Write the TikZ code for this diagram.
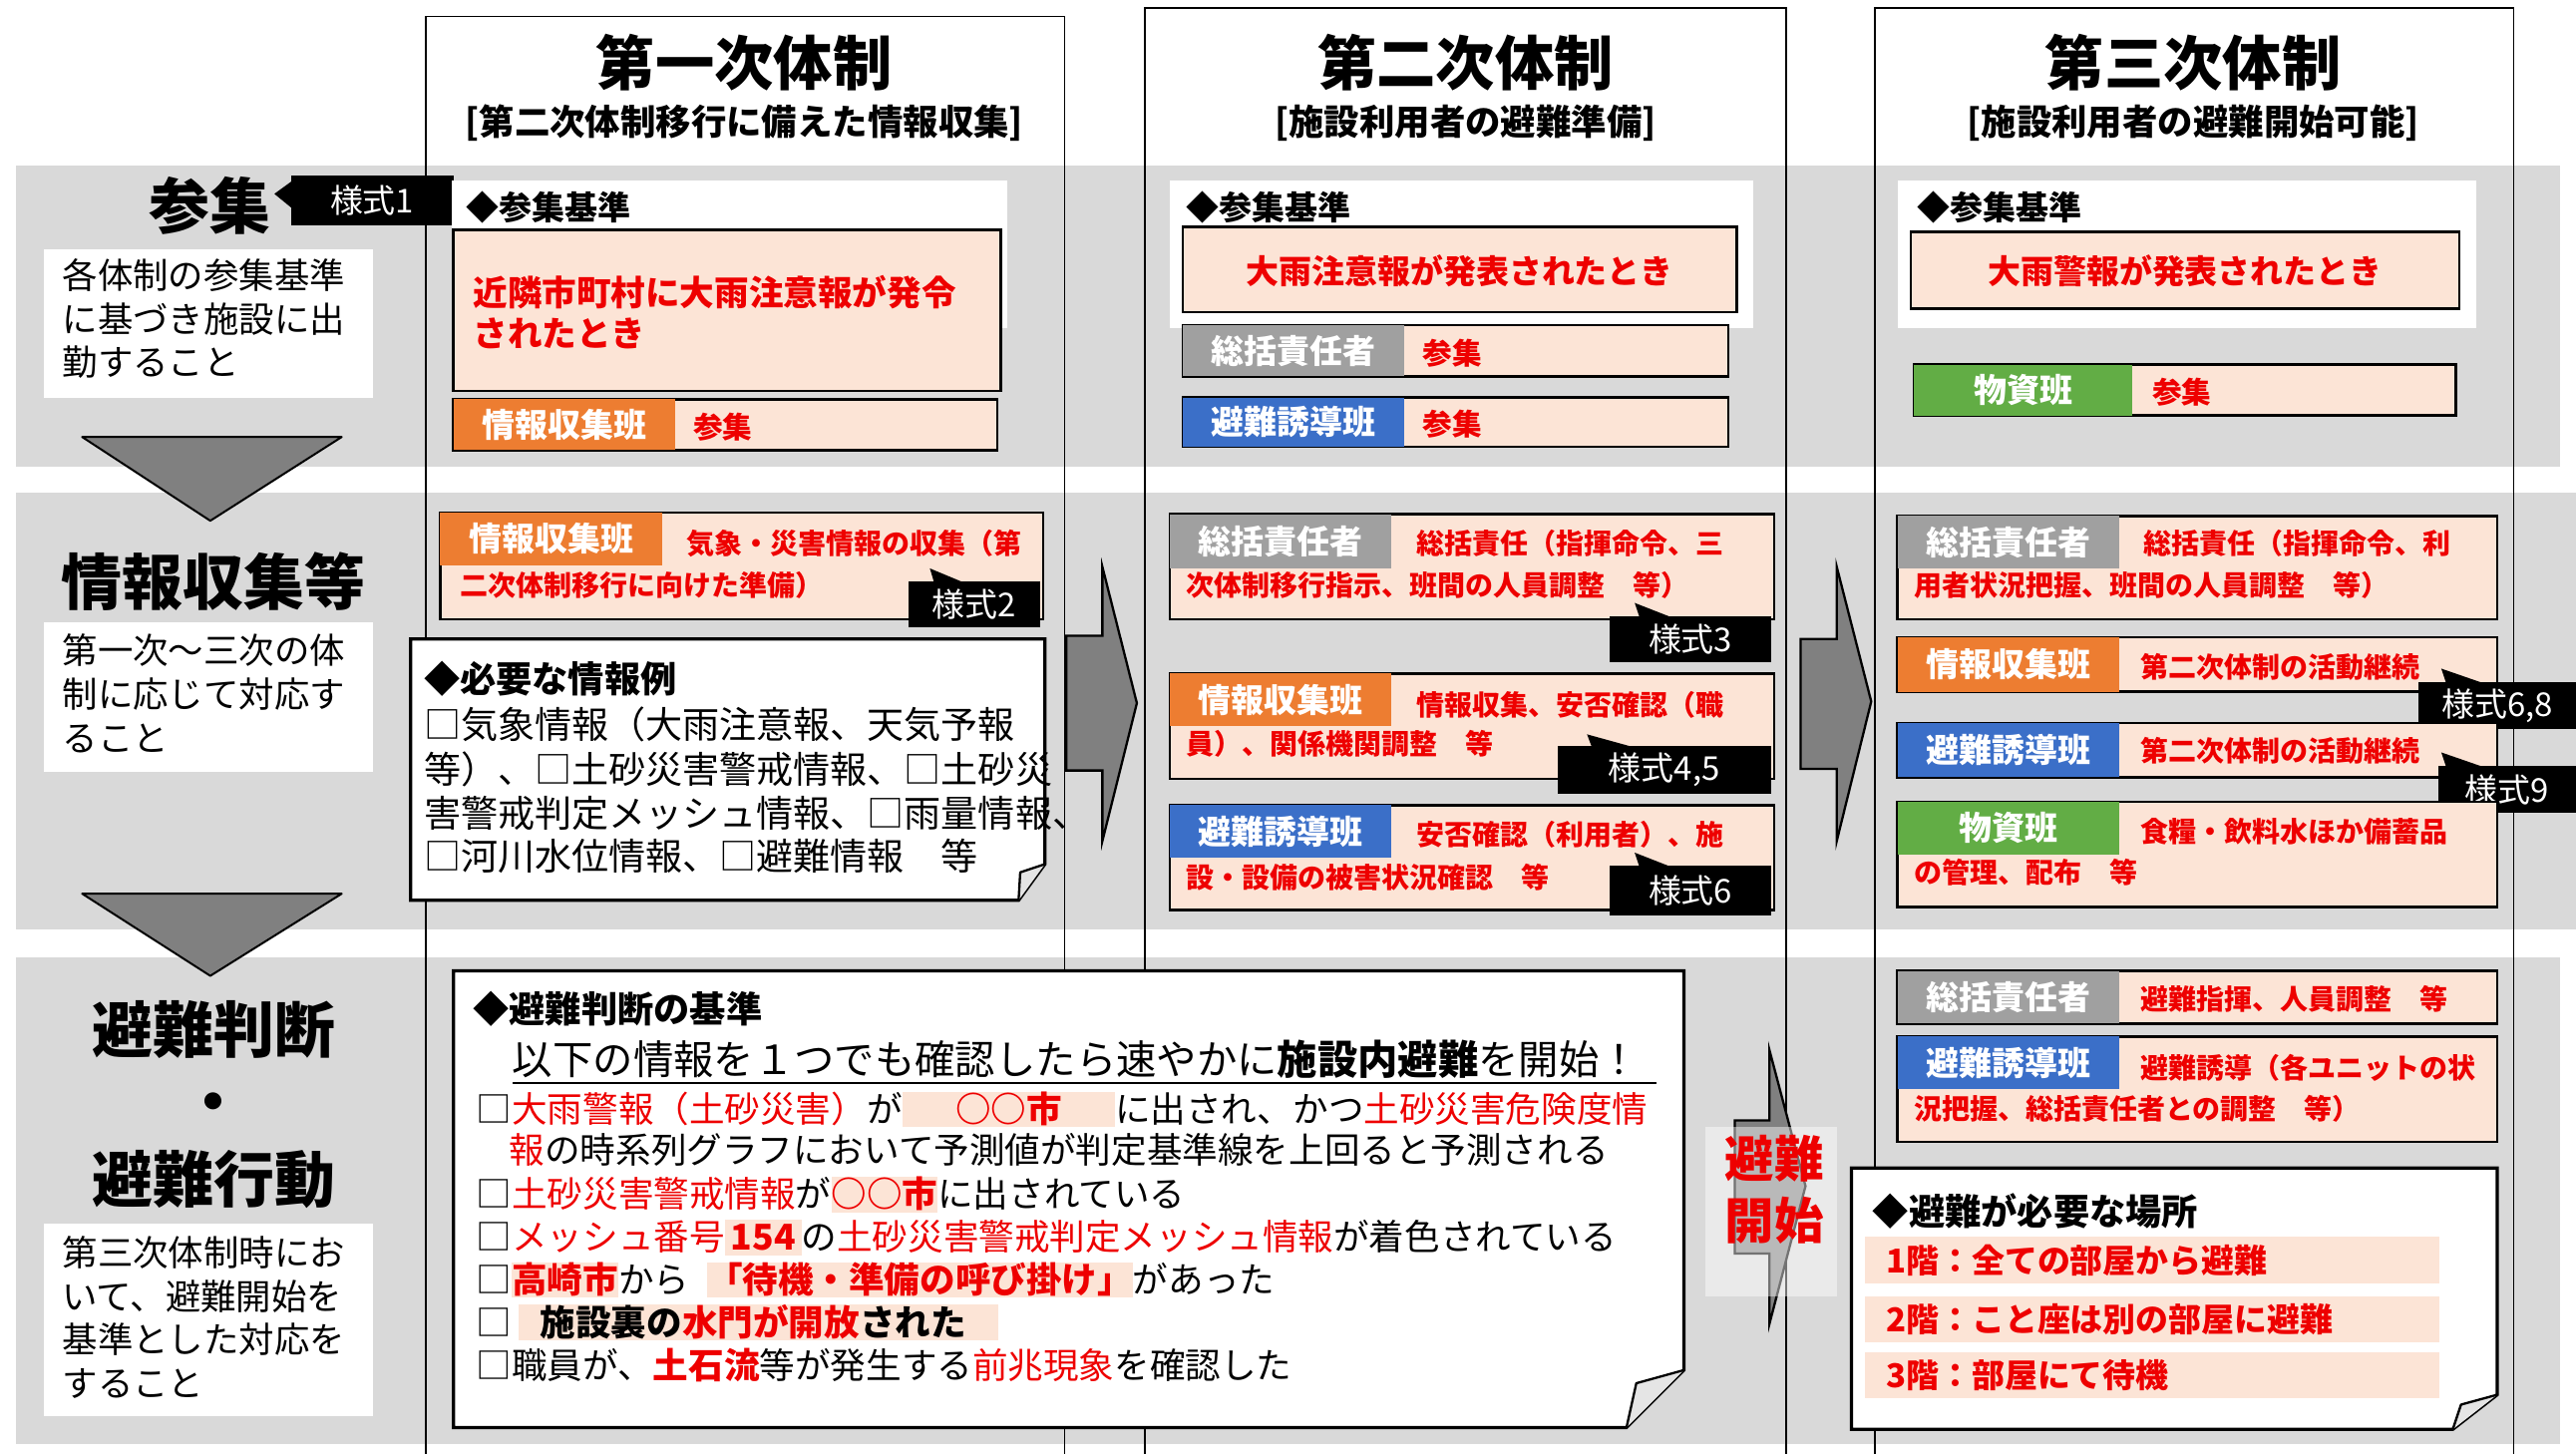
\documentclass[tikz,border=0pt]{standalone}
\usepackage{fontspec}
\setmainfont{Noto Sans CJK JP}
\usetikzlibrary{calc}
\definecolor{bandgray}{HTML}{D9D9D9}
\definecolor{salmon}{HTML}{FCE4D6}
\definecolor{orng}{HTML}{ED7D31}
\definecolor{lblgray}{HTML}{A0A0A0}
\definecolor{lblblue}{HTML}{3B6FC8}
\definecolor{lblgreen}{HTML}{62AD45}
\definecolor{redtxt}{HTML}{EE0000}
\definecolor{arrgray}{HTML}{808080}
\newcommand\jfs[2]{\fontsize{#1}{#2}\selectfont}
\newcommand\hlt[1]{{\setlength{\fboxsep}{0pt}\colorbox{salmon}{\rule[-0.14em]{0pt}{1.0em}#1}}}
\newcommand\rd[1]{\textcolor{redtxt}{#1}}
\newcommand\rb[1]{\textcolor{redtxt}{\bfseries #1}}
\tikzset{
 txt/.style={inner sep=0pt, outer sep=0pt},
 colline/.style={draw=black, line width=1.1pt},
 sbox/.style={fill=salmon, draw=black, line width=1.6pt},
 lbltxt/.style={txt, text=white, font=\jfs{20}{24}\bfseries},
 redt/.style={txt, anchor=west, text=redtxt, font=\jfs{17}{20}\bfseries},
 sanshu/.style={txt, anchor=west, text=redtxt, font=\jfs{18}{20}\bfseries},
 yshiki/.style={fill=black, text=white, inner sep=0pt, font=\jfs{20}{22}},
 tri/.style={fill=arrgray, draw=black, line width=1.2pt, line join=round},
 bigarrow/.style={fill=arrgray, draw=black, line width=1.4pt},
 notebox/.style={fill=white, draw=black, line width=2pt},
 flap/.style={fill=gray!20, draw=black, line width=1.4pt, line join=round},
 bigtitle/.style={txt, font=\jfs{36}{40}\bfseries},
 subtitle/.style={txt, font=\jfs{21.5}{24}\bfseries},
 side/.style={txt, font=\jfs{37}{40}\bfseries},
 desc/.style={txt, anchor=north west, align=left, font=\jfs{21.5}{26.5}},
 hd/.style={txt, anchor=west, font=\jfs{20}{24}\bfseries},
 info/.style={txt, anchor=west, font=\jfs{22.5}{26}},
 crit/.style={txt, anchor=base west, font=\jfs{21.6}{26}},
 place/.style={txt, anchor=west, text=redtxt, font=\jfs{20}{24}\bfseries},
}
\begin{document}
\begin{tikzpicture}[x=1pt,y=-1pt]
\useasboundingbox (0,0) rectangle (1568,885);
\fill[white] (0,0) rectangle (1568,885);
% bands
\fill[bandgray] (10,101) rectangle (1558,284);
\fill[bandgray] (10,300) rectangle (1568,566);
\fill[bandgray] (10,583) rectangle (1558,879);
% columns
\draw[colline] (259,885) -- (259,10) -- (648,10) -- (648,885);
\draw[colline] (697,885) -- (697,5) -- (1087,5) -- (1087,885);
\draw[colline] (1141,885) -- (1141,5) -- (1530,5) -- (1530,885);
% headers
\node[bigtitle] (t1) at (453,38) {第一次体制};
\node[subtitle] (s1) at (453,75) {[第二次体制移行に備えた情報収集]};
\node[bigtitle] (t2) at (892,38) {第二次体制};
\node[subtitle] (s2) at (892,75) {[施設利用者の避難準備]};
\node[bigtitle] (t3) at (1335,38) {第三次体制};
\node[subtitle] (s3) at (1335,75) {[施設利用者の避難開始可能]};
% left side
\node[side] (sanshu) at (128,125) {参集};
\fill[black] (167,118) -- (178,110) -- (178,127) -- cycle;
\node[yshiki, minimum width=99pt, minimum height=30pt] (y1) at (226.5,122) {様式1};
\fill[white] (27,152) rectangle (227,242);
\node[desc] (d1) at (38,157.5) {各体制の参集基準\\に基づき施設に出\\勤すること};
\draw[tri] (50,266) -- (208,266) -- (128,317) -- cycle;
\node[side] (joho) at (130,354) {情報収集等};
\fill[white] (27,379) rectangle (227,470);
\node[desc] (d2) at (38,386) {第一次～三次の体\\制に応じて対応す\\ること};
\draw[tri] (50,544) -- (208,544) -- (128,594) -- cycle;
\node[side] (hinan1) at (130,627) {避難判断};
\node[side] (dot) at (130,675) {・};
\node[side] (hinan2) at (130,718) {避難行動};
\fill[white] (27,745) rectangle (227,862);
\node[desc] (d3) at (38,752.5) {第三次体制時にお\\いて、避難開始を\\基準とした対応を\\すること};
% ===== Band A =====
\fill[white] (275,110) rectangle (613,200);
\node[hd] (k1) at (284,126) {◆参集基準};
\draw[sbox] (276,140) rectangle (609,238);
\node[txt, anchor=north west, align=left, text=redtxt, font=\jfs{21}{25}\bfseries] (k1t) at (288,167.5) {近隣市町村に大雨注意報が発令\\されたとき};
\draw[sbox] (276,243) rectangle (607,274);
\fill[orng] (276,243) rectangle (411,274);
\node[lbltxt] (a1l) at (343.5,258.5) {情報収集班};
\node[sanshu] (a1r) at (422,260) {参集};
\fill[white] (712,110) rectangle (1067,200);
\node[hd] (k2) at (722,126) {◆参集基準};
\draw[sbox] (720,138) rectangle (1057,190);
\node[txt, text=redtxt, font=\jfs{20}{24}\bfseries] (k2t) at (888.5,165) {大雨注意報が発表されたとき};
\draw[sbox] (720,198) rectangle (1052,229);
\fill[lblgray] (720,198) rectangle (855,229);
\node[lbltxt] (a2l) at (787.5,213.5) {総括責任者};
\node[sanshu] (a2r) at (866,215) {参集};
\draw[sbox] (720,242) rectangle (1052,272);
\fill[lblblue] (720,242) rectangle (855,272);
\node[lbltxt] (a3l) at (787.5,257) {避難誘導班};
\node[sanshu] (a3r) at (866,258) {参集};
\fill[white] (1155,110) rectangle (1507,200);
\node[hd] (k3) at (1167,126) {◆参集基準};
\draw[sbox] (1163,141) rectangle (1497,188);
\node[txt, text=redtxt, font=\jfs{20}{24}\bfseries] (k3t) at (1330,165) {大雨警報が発表されたとき};
\draw[sbox] (1165,222) rectangle (1495,253);
\fill[lblgreen] (1165,222) rectangle (1298,253);
\node[lbltxt] (a4l) at (1231.5,237.5) {物資班};
\node[sanshu] (a4r) at (1310,239) {参集};
% ===== Band B =====
\draw[sbox] (268,312) rectangle (635,377);
\fill[orng] (268,312) rectangle (403,344);
\node[lbltxt] (b1l) at (335.5,328) {情報収集班};
\node[redt] (b1a) at (418,331) {気象・災害情報の収集（第};
\node[redt] (b1b) at (280,356) {二次体制移行に向けた準備）};
\fill[black] (566,346) -- (569,356) -- (590,356) -- cycle;
\node[yshiki, minimum width=80pt, minimum height=28pt] (y2) at (593,368) {様式2};
\draw[notebox] (250,389) -- (636,389) -- (636,526) -- (620,548) -- (250,548) -- cycle;
\draw[flap] (636,526) -- (621,531) -- (620,548);
\node[txt, anchor=west, font=\jfs{22}{26}\bfseries] (ih) at (258,413) {◆必要な情報例};
\node[info] (i1) at (258,441) {□気象情報（大雨注意報、天気予報};
\node[info] (i2) at (258,468) {等）、□土砂災害警戒情報、□土砂災};
\node[info] (i3) at (258,495) {害警戒判定メッシュ情報、□雨量情報、};
\node[info] (i4) at (258,521) {□河川水位情報、□避難情報　等};
% col2
\draw[sbox] (712,313) rectangle (1080,377);
\fill[lblgray] (712,313) rectangle (847,346);
\node[lbltxt] (b2l) at (779.5,329.5) {総括責任者};
\node[redt] (b2a) at (862,331) {総括責任（指揮命令、三};
\node[redt] (b2b) at (722,356) {次体制移行指示、班間の人員調整　等）};
\fill[black] (995,367) -- (998,376) -- (1018,376) -- cycle;
\node[yshiki, minimum width=98pt, minimum height=28pt] (y3) at (1029,389) {様式3};
\draw[sbox] (712,410) rectangle (1080,474);
\fill[orng] (712,410) rectangle (847,442);
\node[lbltxt] (b3l) at (779.5,426) {情報収集班};
\node[redt] (b3a) at (862,429) {情報収集、安否確認（職};
\node[redt] (b3b) at (722,453) {員）、関係機関調整　等};
\fill[black] (966,447) -- (969,455) -- (995,455) -- cycle;
\node[yshiki, minimum width=130pt, minimum height=29pt] (y45) at (1013,468.5) {様式4,5};
\draw[sbox] (712,490) rectangle (1080,554);
\fill[lblblue] (712,490) rectangle (847,522);
\node[lbltxt] (b4l) at (779.5,506) {避難誘導班};
\node[redt] (b4a) at (862,508) {安否確認（利用者）、施};
\node[redt] (b4b) at (722,534) {設・設備の被害状況確認　等};
\fill[black] (995,519) -- (998,528) -- (1018,528) -- cycle;
\node[yshiki, minimum width=98pt, minimum height=30pt] (y6) at (1029,542) {様式6};
% col3
\draw[sbox] (1155,314) rectangle (1520,377);
\fill[lblgray] (1155,314) rectangle (1290,346);
\node[lbltxt] (b5l) at (1222.5,330) {総括責任者};
\node[redt] (b5a) at (1305,331) {総括責任（指揮命令、利};
\node[redt] (b5b) at (1165,356) {用者状況把握、班間の人員調整　等）};
\draw[sbox] (1155,388) rectangle (1520,421);
\fill[orng] (1155,388) rectangle (1290,421);
\node[lbltxt] (b6l) at (1222.5,404.5) {情報収集班};
\node[redt] (b6a) at (1303,406) {第二次体制の活動継続};
\fill[black] (1486,407) -- (1489,416) -- (1512,416) -- cycle;
\node[yshiki, minimum width=96pt, minimum height=29pt] (y68) at (1520,429.5) {様式6,8};
\draw[sbox] (1155,440) rectangle (1520,473);
\fill[lblblue] (1155,440) rectangle (1290,473);
\node[lbltxt] (b7l) at (1222.5,456.5) {避難誘導班};
\node[redt] (b7a) at (1303,457) {第二次体制の活動継続};
\fill[black] (1486,458) -- (1489,467) -- (1512,467) -- cycle;
\node[yshiki, minimum width=84pt, minimum height=29pt] (y9) at (1526,480.5) {様式9};
\draw[sbox] (1155,488) rectangle (1520,552);
\fill[lblgreen] (1155,488) rectangle (1290,520);
\node[lbltxt] (b8l) at (1222.5,504) {物資班};
\node[redt] (b8a) at (1303,506) {食糧・飲料水ほか備蓄品};
\node[redt] (b8b) at (1165,531) {の管理、配布　等};
% big arrows
\draw[bigarrow] (649,387) -- (671,387) -- (671,345) -- (692,428) -- (671,512) -- (671,469) -- (649,469) -- cycle;
\draw[bigarrow] (1096,389) -- (1118,389) -- (1118,345) -- (1139,427) -- (1118,512) -- (1118,468) -- (1096,468) -- cycle;
% ===== Band C =====
\draw[notebox] (276,591) -- (1025,591) -- (1025,834) -- (990,869) -- (276,869) -- cycle;
\draw[flap] (1025,834) -- (996,842) -- (990,869);
\node[txt, anchor=west, font=\jfs{22}{26}\bfseries] (ch) at (288,614) {◆避難判断の基準};
\node[txt, anchor=west, font=\jfs{24.5}{28}] (cu) at (312,645) {以下の情報を１つでも確認したら速やかに\textbf{施設内避難}を開始！};
\draw[line width=1.3pt] (312,659) -- (1008,659);
\node[crit] (c1) at (290,683) {□\rd{大雨警報（土砂災害）}が\hlt{\hspace{1.5em}\rb{○○市}\hspace{1.5em}}に出され、かつ\rd{土砂災害危険度情}};
\node[crit] (c2) at (310,708) {\rd{報}の時系列グラフにおいて予測値が判定基準線を上回ると予測される};
\node[crit] (c3) at (290,735) {□\rd{土砂災害警戒情報}が\hlt{\rb{○○市}}に出されている};
\node[crit] (c4) at (290,761) {□\rd{メッシュ番号}\hlt{\,\rb{154}\,}の\rd{土砂災害警戒判定メッシュ情報}が着色されている};
\node[crit] (c5) at (290,787) {□\hlt{\rb{高崎市}}から\hspace{0.5em}\hlt{\rb{「待機・準備の呼び掛け」}}があった};
\node[crit] (c6) at (290,813) {□\hspace{0.2em}\hlt{\bfseries\hspace{0.6em}施設裏の\rd{水門が開放}された\hspace{0.9em}}};
\node[crit] (c7) at (290,839) {□職員が、\rb{土石流}等が発生する\rd{前兆現象}を確認した};
% evacuation start arrow
\draw[bigarrow] (1056,682) -- (1077,682) -- (1077,639) -- (1099,722) -- (1077,806) -- (1077,763) -- (1056,763) -- cycle;
\fill[white, fill opacity=0.45] (1038,686) rectangle (1118,789);
\node[txt, align=center, text=redtxt, font=\jfs{30}{38}\bfseries] (kaishi) at (1080,724) {避難\\開始};
% col3 band C
\draw[sbox] (1155,591) rectangle (1520,623);
\fill[lblgray] (1155,591) rectangle (1290,623);
\node[lbltxt] (c8l) at (1222.5,607) {総括責任者};
\node[redt] (c8a) at (1303,608) {避難指揮、人員調整　等};
\draw[sbox] (1155,631) rectangle (1520,695);
\fill[lblblue] (1155,631) rectangle (1290,663);
\node[lbltxt] (c9l) at (1222.5,647) {避難誘導班};
\node[redt] (c9a) at (1303,650) {避難誘導（各ユニットの状};
\node[redt] (c9b) at (1165,675) {況把握、総括責任者との調整　等）};
\draw[notebox] (1127,711) -- (1520,711) -- (1520,849) -- (1493,870) -- (1127,870) -- cycle;
\draw[flap] (1520,849) -- (1498,855) -- (1493,870);
\node[txt, anchor=west, font=\jfs{22}{26}\bfseries] (ph) at (1140,737) {◆避難が必要な場所};
\fill[salmon] (1135,753) rectangle (1485,781);
\fill[salmon] (1135,789) rectangle (1485,817);
\fill[salmon] (1135,823) rectangle (1485,851);
\node[place] (p1) at (1148,767) {1階：全ての部屋から避難};
\node[place] (p2) at (1148,803) {2階：こと座は別の部屋に避難};
\node[place] (p3) at (1148,837) {3階：部屋にて待機};
\end{tikzpicture}
\end{document}
